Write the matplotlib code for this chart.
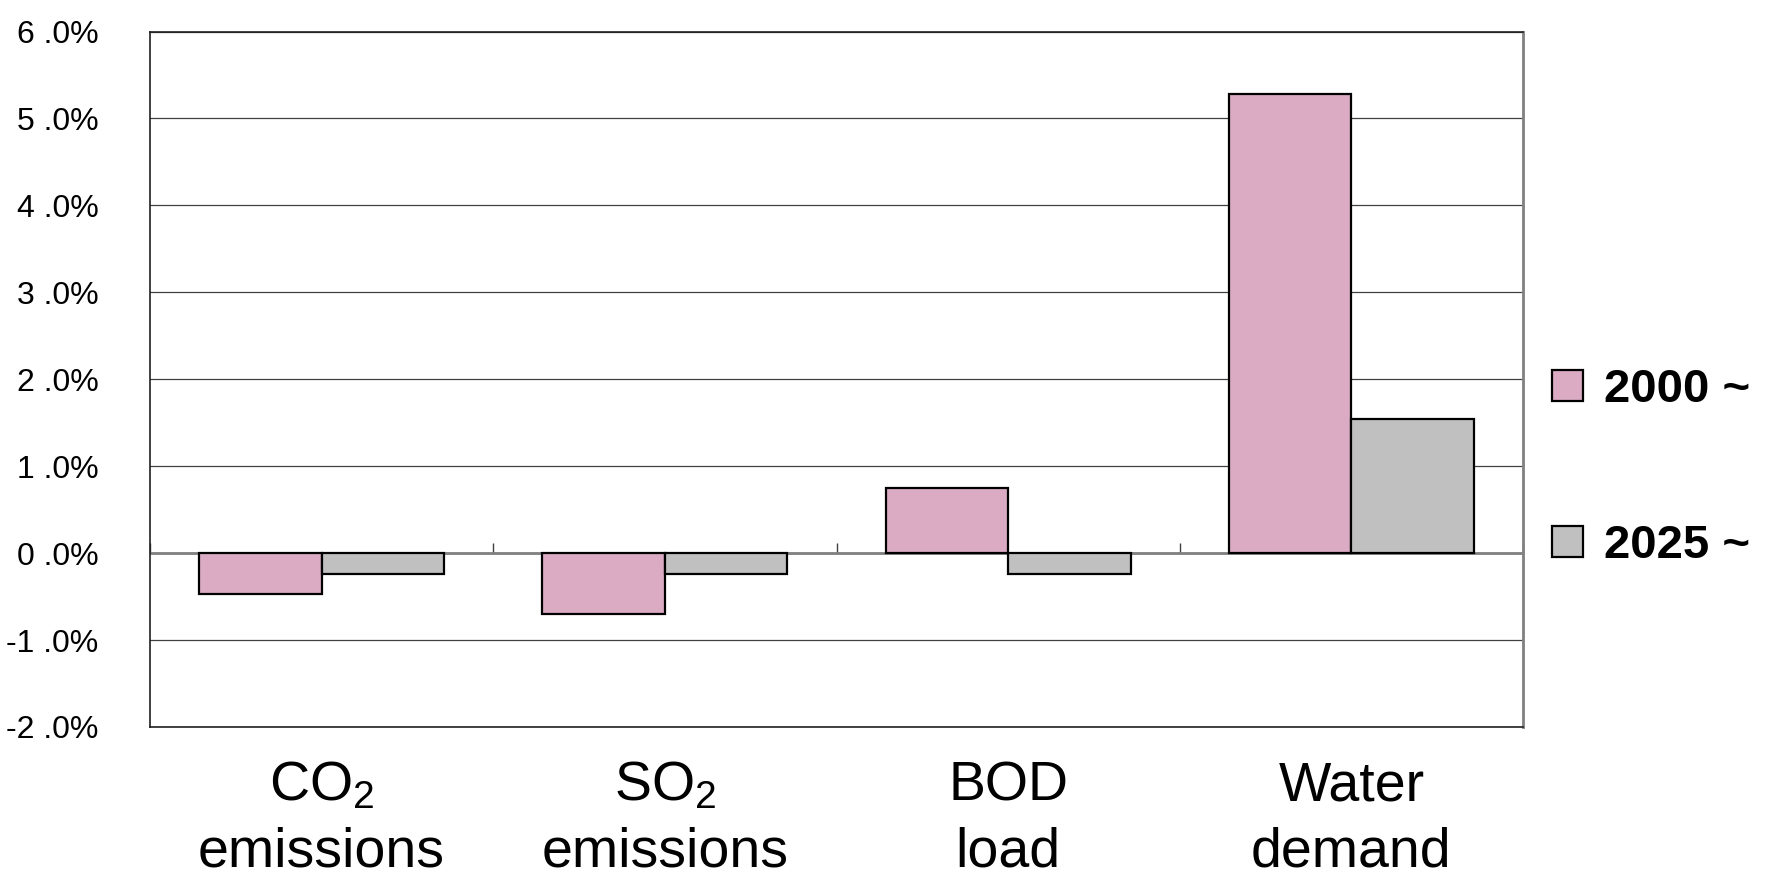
import matplotlib.pyplot as plt
from matplotlib import font_manager
import numpy as np

categories = ["CO$_2$\nemissions", "SO$_2$\nemissions", "BOD\nload", "Water\ndemand"]
series_names = ["2000 ~", "2025 ~"]
values_2000 = [-0.47, -0.70, 0.75, 5.28]
values_2025 = [-0.24, -0.24, -0.24, 1.54]
y_ticks = [-2, -1, 0, 1, 2, 3, 4, 5, 6]
y_tick_labels = ["-2 .0%", "-1 .0%", "0 .0%", "1 .0%", "2 .0%",
                 "3 .0%", "4 .0%", "5 .0%", "6 .0%"]

pink = "#dbabc4"
grey = "#c0c0c0"

names = {f.name for f in font_manager.fontManager.ttflist}
if "Liberation Sans Narrow" in names:
    tick_font, tick_size = "Liberation Sans Narrow", 26.5
else:
    tick_font, tick_size = "Liberation Sans", 23

plt.rcParams["font.family"] = ["Liberation Sans", "DejaVu Sans"]
plt.rcParams["mathtext.fontset"] = "custom"
plt.rcParams["mathtext.rm"] = "Liberation Sans"
plt.rcParams["mathtext.it"] = "Liberation Sans"

fig = plt.figure(figsize=(17.71, 8.84), dpi=100)
ax = fig.add_axes([150 / 1771, 1 - 727 / 884, 1373 / 1771, 695.5 / 884])

x = np.arange(len(categories))
w = 0.357
b1 = ax.bar(x - w / 2, values_2000, w, color=pink, edgecolor="black",
            linewidth=1.6, zorder=3, label=series_names[0])
b2 = ax.bar(x + w / 2, values_2025, w, color=grey, edgecolor="black",
            linewidth=1.6, zorder=3, label=series_names[1])

ymin, ymax = y_ticks[0], y_ticks[-1]
ax.set_ylim(ymin, ymax)
ax.set_xlim(-0.5, len(categories) - 0.5)

ax.set_yticks(y_ticks)
ax.set_yticklabels(y_tick_labels, fontfamily=tick_font, fontsize=tick_size)
ax.tick_params(axis="y", length=0, pad=37)
ax.yaxis.grid(True, color="#404040", linewidth=0.9, zorder=0)
ax.set_axisbelow(True)

ax.set_xticks(x)
ax.set_xticklabels(categories, fontsize=40, linespacing=1.36)
ax.tick_params(axis="x", length=0, pad=24)

# zero line + category divider ticks
ax.axhline(0, color="#808080", linewidth=2, zorder=2)
zero_ax = ax.secondary_xaxis((0 - ymin) / (ymax - ymin))
zero_ax.set_xticks(np.arange(len(categories) + 1) - 0.5)
zero_ax.set_xticklabels([])
zero_ax.tick_params(direction="in", length=7, width=1, color="#404040")
zero_ax.spines["bottom"].set_visible(False)
zero_ax.spines["top"].set_visible(False)

for side in ["left", "bottom", "top"]:
    ax.spines[side].set_color("#202020")
    ax.spines[side].set_linewidth(1.2)
ax.spines["right"].set_color("#808080")
ax.spines["right"].set_linewidth(2)

fig.legend(handles=[b1, b2], loc="center left",
           bbox_to_anchor=(1552 / 1771, 1 - 468 / 884),
           frameon=False, borderpad=0, borderaxespad=0,
           handlelength=0.65, handleheight=0.65, handletextpad=0.45,
           labelspacing=2.37, prop={"weight": "bold", "size": 34})

fig.savefig("out.png", dpi=100)
